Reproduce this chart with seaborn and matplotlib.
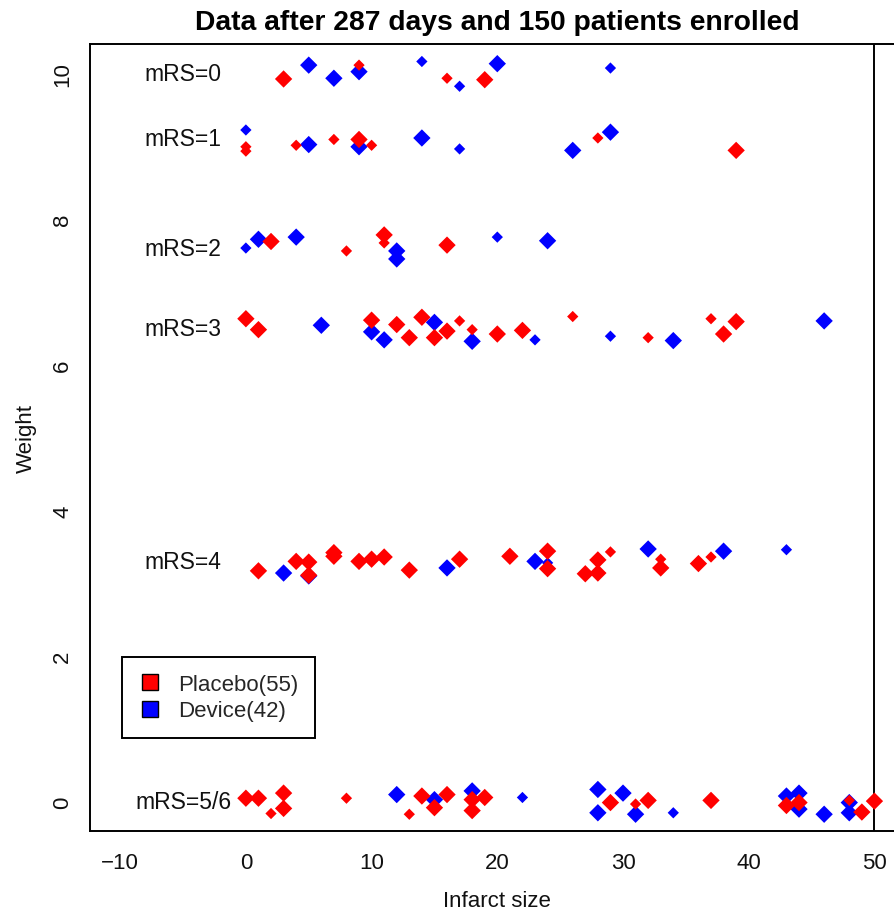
import matplotlib
matplotlib.use("Agg")
import matplotlib.pyplot as plt
from matplotlib.lines import Line2D
import seaborn as sns
import pandas as pd

# ---------------- data ----------------
title = "Data after 287 days and 150 patients enrolled"
x_label = "Infarct size"
y_label = "Weight"
x_ticks = [-10, 0, 10, 20, 30, 40, 50]
y_ticks = [0, 2, 4, 6, 8, 10]
mrs_labels = ["mRS=0", "mRS=1", "mRS=2", "mRS=3", "mRS=4", "mRS=5/6"]
mrs_weights = [10, 9.1, 7.6, 6.5, 3.3, 0]
legend_labels = ["Placebo(55)", "Device(42)"]

device_x = [5, 7, 9, 14, 17, 20, 29,
            0, 5, 9, 14, 17, 26, 29,
            0, 1, 4, 12, 12, 20, 24,
            6, 10, 11, 15, 18, 23, 29, 34, 46,
            3, 5, 16, 23, 24, 32, 38, 43,
            12, 15, 18, 22, 28, 28, 30, 31, 34, 43, 44, 44, 46, 48, 48]
device_y = [10.11, 9.93, 10.02, 10.16, 9.82, 10.13, 10.07,
            9.22, 9.02, 8.99, 9.11, 8.96, 8.94, 9.19,
            7.60, 7.72, 7.75, 7.56, 7.45, 7.75, 7.70,
            6.54, 6.45, 6.34, 6.58, 6.32, 6.34, 6.39, 6.33, 6.60,
            3.14, 3.10, 3.21, 3.30, 3.28, 3.47, 3.44, 3.46,
            0.10, 0.03, 0.15, 0.06, 0.17, -0.15, 0.12, -0.17, -0.15, 0.08, 0.12, -0.10, -0.17, -0.01, -0.15]
device_kind = ["L", "L", "L", "S", "S", "L", "S",
               "S", "L", "L", "L", "S", "L", "L",
               "S", "L", "L", "L", "L", "S", "L",
               "L", "L", "L", "L", "L", "S", "S", "L", "L",
               "L", "L", "L", "L", "S", "L", "L", "S",
               "L", "L", "L", "S", "L", "L", "L", "L", "S", "L", "L", "L", "L", "L", "L"]

placebo_x = [3, 9, 16, 19,
             0, 0, 4, 7, 9, 10, 28, 39,
             2, 8, 11, 11, 16,
             0, 1, 10, 12, 13, 14, 15, 16, 17, 18, 20, 22, 26, 32, 37, 38, 39,
             1, 4, 5, 5, 7, 7, 9, 10, 11, 13, 17, 21, 24, 24, 27, 28, 28, 29, 33, 33, 36, 37,
             0, 1, 3, 2, 3, 8, 14, 13, 15, 16, 18, 18, 19, 29, 31, 32, 37, 43, 44, 48, 49, 50]
placebo_y = [9.92, 10.11, 9.93, 9.91,
             8.99, 8.93, 9.01, 9.09, 9.09, 9.01, 9.11, 8.94,
             7.69, 7.56, 7.78, 7.67, 7.64,
             6.63, 6.48, 6.61, 6.55, 6.37, 6.65, 6.37, 6.46, 6.60, 6.48, 6.42, 6.47, 6.66, 6.37, 6.63, 6.42, 6.59,
             3.17, 3.30, 3.29, 3.11, 3.42, 3.37, 3.30, 3.33, 3.36, 3.18, 3.33, 3.37, 3.44, 3.20, 3.13, 3.32, 3.14, 3.43, 3.33, 3.21, 3.27, 3.36,
             0.05, 0.05, 0.12, -0.16, -0.09, 0.05, 0.08, -0.17, -0.08, 0.10, 0.03, -0.12, 0.06, -0.01, -0.03, 0.02, 0.02, -0.05, -0.01, 0.02, -0.14, 0.01]
placebo_kind = ["L", "S", "S", "L",
                "S", "S", "S", "S", "L", "S", "S", "L",
                "L", "S", "L", "S", "L",
                "L", "L", "L", "L", "L", "L", "L", "L", "S", "S", "L", "L", "S", "S", "S", "L", "L",
                "L", "L", "L", "L", "L", "L", "L", "L", "L", "L", "L", "L", "L", "L", "L", "L", "L", "S", "S", "L", "L", "S",
                "L", "L", "L", "S", "L", "S", "L", "S", "L", "L", "L", "L", "L", "L", "S", "L", "L", "L", "L", "S", "L", "L"]

df = pd.concat([
    pd.DataFrame({"infarct": device_x, "weight": device_y, "kind": device_kind, "group": "Device"}),
    pd.DataFrame({"infarct": placebo_x, "weight": placebo_y, "kind": placebo_kind, "group": "Placebo"}),
], ignore_index=True)

# ---------------- style ----------------
sns.set_style("white")
plt.rcParams["font.family"] = ["Liberation Sans", "DejaVu Sans"]
colors = {"Placebo": "#ff0000", "Device": "#0000ff"}

fig = plt.figure(figsize=(8.94, 9.12), dpi=100)
W, H = 894, 912
left_px, right_px, top_px, bottom_px = 90, 904.6, 45, 832
ax = fig.add_axes([left_px / W, (H - bottom_px) / H, (right_px - left_px) / W, (bottom_px - top_px) / H])

sns.scatterplot(data=df, x="infarct", y="weight", hue="group", palette=colors,
                size="kind", sizes={"L": 78, "S": 33}, marker="D", linewidth=0,
                legend=False, ax=ax, zorder=3)

ax.axvline(50, color="black", lw=1.4, zorder=2)

for lab, w in zip(mrs_labels, mrs_weights):
    ax.text(-5, w, lab, ha="center", va="center", fontsize=16.5, color="#111111")

ax.set_xlim(-12.4, 52.4)
ax.set_ylim(-0.4, 10.4)
ax.set_xticks(x_ticks)
ax.set_yticks(y_ticks)
ax.set_xticklabels([str(t).replace("-", "\u2212") for t in x_ticks])
ax.set_yticklabels([str(t) for t in y_ticks])
ax.tick_params(axis="both", direction="out", length=7, width=1.3, color="black",
               labelsize=16, labelcolor="#111111")
ax.tick_params(axis="x", pad=8)
ax.tick_params(axis="y", pad=5)
for lbl in ax.get_yticklabels():
    lbl.set_rotation(90)
    lbl.set_va("center")

for side in ["left", "bottom", "top"]:
    ax.spines[side].set_visible(True)
    ax.spines[side].set_color("black")
    ax.spines[side].set_linewidth(1.4)
ax.spines["right"].set_visible(False)

ax.set_xlabel(x_label, fontsize=16, color="#111111")
ax.set_ylabel(y_label, fontsize=16, color="#111111")
ax.xaxis.set_label_coords(0.5, -0.075)
ax.yaxis.set_label_coords(-0.065, 0.5)
ax.set_title(title, fontsize=20.3, fontweight="bold", pad=11, color="black")

handles = [Line2D([], [], linestyle="none", marker="s", markersize=11.5,
                  markerfacecolor=colors["Placebo"], markeredgecolor="black", markeredgewidth=1.0),
           Line2D([], [], linestyle="none", marker="s", markersize=11.5,
                  markerfacecolor=colors["Device"], markeredgecolor="black", markeredgewidth=1.0)]
leg = ax.legend(handles, legend_labels, loc="lower left", bbox_to_anchor=(0.039, 0.118),
                fontsize=16, frameon=True, fancybox=False, framealpha=1, edgecolor="black",
                borderpad=0.75, labelspacing=0.25, handlelength=1.0, handletextpad=0.78,
                borderaxespad=0)
leg.get_frame().set_linewidth(1.4)

fig.savefig("out.png", dpi=100)
